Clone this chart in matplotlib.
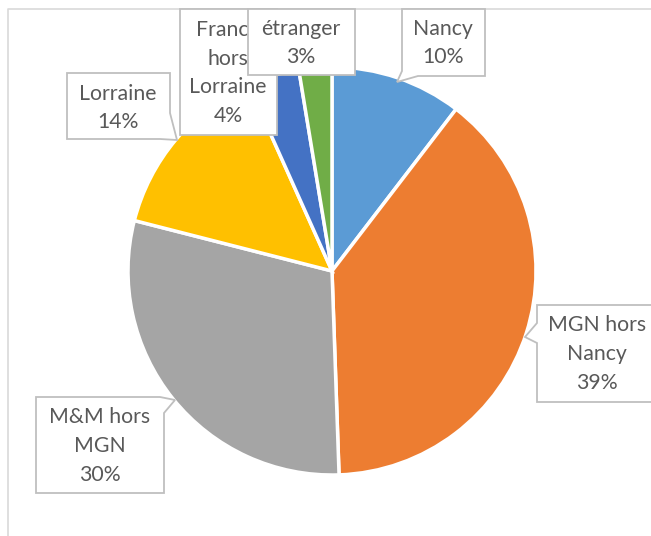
import numpy as np
import matplotlib.pyplot as plt
from matplotlib.patches import Polygon

# data
labels = ['Nancy', 'MGN hors\nNancy', 'M&M hors\nMGN', 'Lorraine', 'France\nhors\nLorraine', 'étranger']
values = [10.4, 39.0, 29.5, 14.3, 4.1, 2.6]
colors = ['#5B9BD5', '#ED7D31', '#A5A5A5', '#FFC000', '#4472C4', '#70AD47']

# callout boxes in pixel coords (corner and notch points) and text centre
boxes = [
    [(402, 9), (485, 9), (485, 76), (418, 76), (397, 82), (402, 71)],
    [(537, 305), (660, 305), (660, 402), (537, 402), (537, 343), (525, 337), (537, 323)],
    [(36, 397), (160, 397), (175, 400), (164, 413), (164, 493), (36, 493)],
    [(67, 73), (170, 73), (170, 113), (177, 140), (160, 139), (67, 139)],
    [(180, 9), (277, 9), (277, 135), (180, 135)],
    [(248, 9), (355, 9), (355, 75), (248, 75)],
]
text_pos = [(443, 43), (597, 354), (100, 446), (118, 108), (228, 73), (301, 43)]

fig = plt.figure(figsize=(6.51, 5.36), dpi=100)
ax = fig.add_axes([0, 0, 1, 1])

# inverted y so coordinates match the image pixels
ax.pie(values, colors=colors, center=(332, 271), radius=204,
       startangle=-90, counterclock=True,
       wedgeprops=dict(edgecolor='white', linewidth=2.5))

ax.set_xlim(0, 651)
ax.set_ylim(536, 0)
ax.set_aspect('equal')
ax.set_axis_off()

# chart area frame
ax.plot([8, 8, 651], [536, 9, 9], color='#d9d9d9', lw=1.2, zorder=1, clip_on=False)

for i, (lab, v) in enumerate(zip(labels, values)):
    poly = Polygon(boxes[i], closed=True, facecolor='white', edgecolor='#bfbfbf',
                   lw=1.3, zorder=3 + 2 * i)
    ax.add_patch(poly)
    txt = lab + '\n' + '%d%%' % round(v)
    ax.text(text_pos[i][0], text_pos[i][1], txt, ha='center', va='center',
            fontsize=15.3, color='#595959', family='Lato', linespacing=1.55,
            zorder=4 + 2 * i)

plt.savefig('out.png', dpi=100)
plt.close()
